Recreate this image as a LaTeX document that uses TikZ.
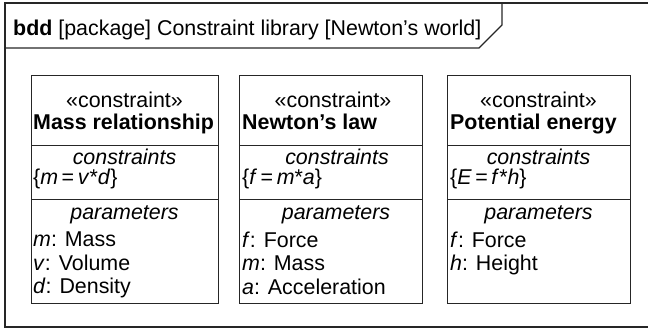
\documentclass[tikz,border=0pt]{standalone}
\usepackage{fontspec}
\setmainfont{Liberation Sans}
\usetikzlibrary{positioning}

\tikzset{
    frm/.style={line width=1.3pt, draw=black!85},
    blk/.style={line width=1pt, draw=black!85},
    txt/.style={inner sep=0pt, font=\fontsize{21.4}{23.5}\selectfont},
}

\begin{document}
\begin{tikzpicture}[x=1pt, y=-1pt]
    \useasboundingbox (0,0) rectangle (648,330);
    % 1. Khung bdd
    \draw[frm] (655,3) -- (5,3) -- (5,327) -- (655,327);
    \draw[frm] (5,48) -- (479,48) -- (502,25) -- (502,3);
    \node[txt, anchor=base west] (title) at (13,35)
        {\textbf{bdd} [package] Constraint library [Newton’s world]};

    % 2. Ba khối ràng buộc
    \foreach \L/\R in {31/218, 239/422, 447/630} {
        \draw[blk] (\L,75) rectangle (\R,303);
        \draw[blk] (\L,145) -- (\R,145);
        \draw[blk] (\L,199) -- (\R,199);
    }

    % 3. Mass relationship
    \node[txt, anchor=base] (st1) at (124.5,107) {«constraint»};
    \node[txt, anchor=base west] (nm1) at (33,129) {\textbf{Mass relationship}};
    \node[txt, anchor=base] (cs1) at (124.5,164) {\textit{constraints}};
    \node[txt, anchor=base west] (ex1) at (33,184) {\{\textit{m}\,=\,\textit{v}*\textit{d}\}};
    \node[txt, anchor=base] (pm1) at (124.5,219) {\textit{parameters}};
    \node[txt, anchor=north west, align=left] (pl1) at ([yshift=-8pt]ex1.south west |- pm1.south)
        {\textit{m}: Mass\\ \textit{v}: Volume\\ \textit{d}: Density};

    % 4. Newton's law
    \node[txt, anchor=base] (st2) at (333,107) {«constraint»};
    \node[txt, anchor=base west] (nm2) at (242,129) {\textbf{Newton’s law}};
    \node[txt, anchor=base] (cs2) at (337,164) {\textit{constraints}};
    \node[txt, anchor=base west] (ex2) at (242,184) {\{\textit{f}\,=\,\textit{m}*\textit{a}\}};
    \node[txt, anchor=base] (pm2) at (336,219) {\textit{parameters}};
    \node[txt, anchor=north west, align=left] (pl2) at ([yshift=-8pt]ex2.south west |- pm2.south)
        {\textit{f}: Force\\ \textit{m}: Mass\\ \textit{a}: Acceleration};

    % 5. Potential energy
    \node[txt, anchor=base] (st3) at (538.5,107) {«constraint»};
    \node[txt, anchor=base west] (nm3) at (450,129) {\textbf{Potential energy}};
    \node[txt, anchor=base] (cs3) at (538.5,164) {\textit{constraints}};
    \node[txt, anchor=base west] (ex3) at (450,184) {\{\textit{E}\,=\,\textit{f}*\textit{h}\}};
    \node[txt, anchor=base] (pm3) at (538.5,219) {\textit{parameters}};
    \node[txt, anchor=north west, align=left] (pl3) at ([yshift=-8pt]ex3.south west |- pm3.south)
        {\textit{f}: Force\\ \textit{h}: Height};
\end{tikzpicture}
\end{document}
